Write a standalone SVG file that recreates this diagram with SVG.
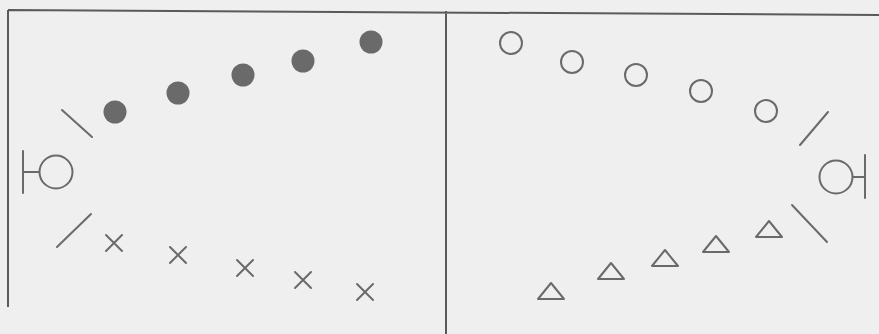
<svg xmlns="http://www.w3.org/2000/svg" width="879" height="334" viewBox="0 0 879 334">
<defs>
<style>
.frame{stroke:#5a5a5a;stroke-width:2;fill:none}
.ln{stroke:#6a6a6a;stroke-width:2;fill:none;stroke-linecap:round}
.dot{fill:#6a6a6a}
.ring{stroke:#6a6a6a;stroke-width:2;fill:none}
</style>
<circle id="d" r="11.5" class="dot"/>
<circle id="o" r="11" class="ring"/>
<path id="x" d="M-8,-8L8,8M-8,8L8,-8" class="ln"/>
<path id="t" d="M-13,8L0,-8L13,8Z" class="ring" stroke-linejoin="round"/>
</defs>
<rect width="879" height="334" fill="#efefef"/>
<g id="frame">
<path class="frame" d="M8,10L879,15M8,10L8,307M446,11L446,334"/>
</g>
<g id="left-players">
<g id="dot1"><use href="#d" x="115" y="112"/></g>
<g id="dot2"><use href="#d" x="178" y="93"/></g>
<g id="dot3"><use href="#d" x="243" y="75"/></g>
<g id="dot4"><use href="#d" x="303" y="61"/></g>
<g id="dot5"><use href="#d" x="371" y="42"/></g>
<g id="cross1"><use href="#x" x="114" y="243"/></g>
<g id="cross2"><use href="#x" x="178" y="255"/></g>
<g id="cross3"><use href="#x" x="245" y="268"/></g>
<g id="cross4"><use href="#x" x="303" y="280"/></g>
<g id="cross5"><use href="#x" x="365" y="292"/></g>
<g id="left-ref"><path class="ln" d="M23,151L23,193M23,172L39,172" stroke-width="3"/><circle class="ring" cx="56" cy="172" r="16.5"/></g>
</g>
<g id="right-players">
<g id="ring1"><use href="#o" x="511" y="43"/></g>
<g id="ring2"><use href="#o" x="572" y="62"/></g>
<g id="ring3"><use href="#o" x="636" y="75"/></g>
<g id="ring4"><use href="#o" x="701" y="91"/></g>
<g id="ring5"><use href="#o" x="766" y="111"/></g>
<g id="tri1"><use href="#t" x="551" y="291"/></g>
<g id="tri2"><use href="#t" x="611" y="271"/></g>
<g id="tri3"><use href="#t" x="665" y="258"/></g>
<g id="tri4"><use href="#t" x="716" y="244"/></g>
<g id="tri5"><use href="#t" x="769" y="229"/></g>
<g id="right-ref"><path class="ln" d="M865,155L865,198M853,177L865,177" stroke-width="3"/><circle class="ring" cx="836" cy="177" r="16.5"/></g>
</g>
<g id="connectors">
<path class="ln" d="M62,110L92,137"/>
<path class="ln" d="M57,247L91,214"/>
<path class="ln" d="M800,145L828,112"/>
<path class="ln" d="M792,205L827,242"/>
</g>
</svg>
